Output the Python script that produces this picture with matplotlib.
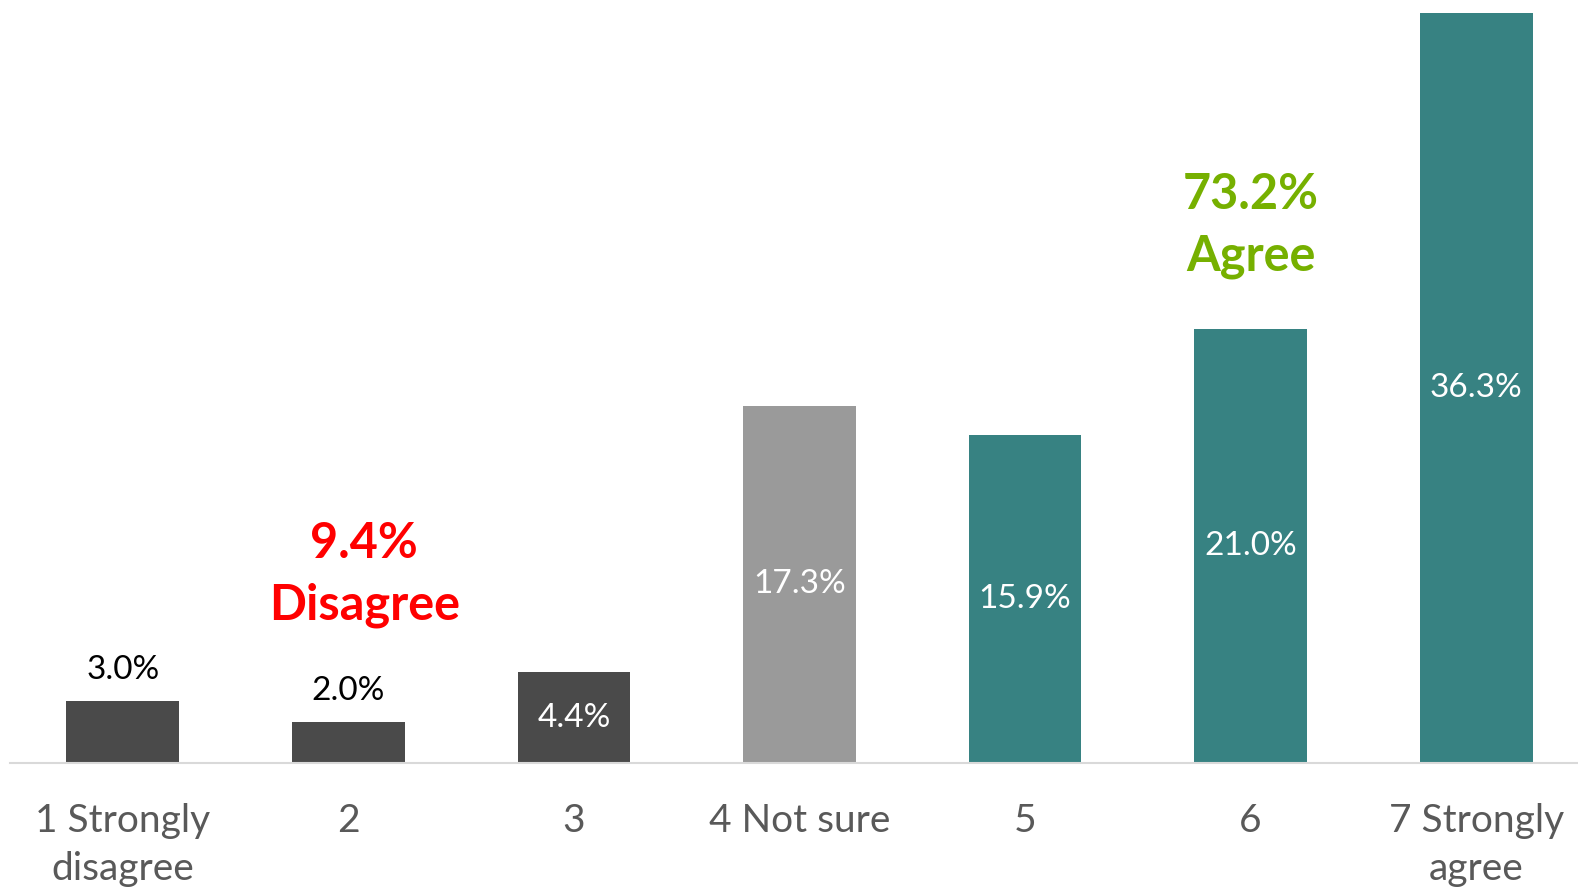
import matplotlib.pyplot as plt

plt.rcParams['font.family'] = ['Lato', 'DejaVu Sans']

categories = ["1 Strongly\ndisagree", "2", "3", "4 Not sure", "5", "6", "7 Strongly\nagree"]
values = [3.0, 2.0, 4.4, 17.3, 15.9, 21.0, 36.3]
groups = ["dis", "dis", "dis", "neutral", "agree", "agree", "agree"]
disagree_total = 9.4
agree_total = 73.2

colors = {"dis": "#4a4a4a", "neutral": "#9a9a9a", "agree": "#378282"}

fig = plt.figure(figsize=(15.78, 8.92), dpi=100)
ax = fig.add_axes([10 / 1578, 0.1446, 1579 / 1578, 0.8408])

x = range(len(categories))
bars = ax.bar(x, values, width=0.5, color=[colors[g] for g in groups])

for i, (b, v) in enumerate(zip(bars, values)):
    if v < 3.5:
        ax.annotate(f"{v:.1f}%", (i, v), xytext=(0, 22), textcoords="offset points",
                    ha="center", va="center", fontsize=24, color="black")
    else:
        ax.text(i, v / 2, f"{v:.1f}%", ha="center", va="center", fontsize=24, color="white")

ax.text(1.07, 9.12, f"{disagree_total}%\nDisagree", ha="center", va="center",
        fontsize=35, fontweight="bold", color="#ff0000", linespacing=1.44)
ax.text(5, 26.02, f"{agree_total}%\nAgree", ha="center", va="center",
        fontsize=35, fontweight="bold", color="#76b000", linespacing=1.44)

ax.set_xlim(-0.5, 6.5)
ax.set_ylim(0, 36.3)
ax.set_xticks(list(x))
ax.set_xticklabels(categories, fontsize=28, color="#595959", linespacing=1.41)
ax.tick_params(axis="x", length=0, pad=29)
ax.set_yticks([])
for s in ["top", "right", "left"]:
    ax.spines[s].set_visible(False)
ax.spines["bottom"].set_color("#d9d9d9")
ax.spines["bottom"].set_linewidth(1.5)

fig.savefig("out.png", dpi=100)
